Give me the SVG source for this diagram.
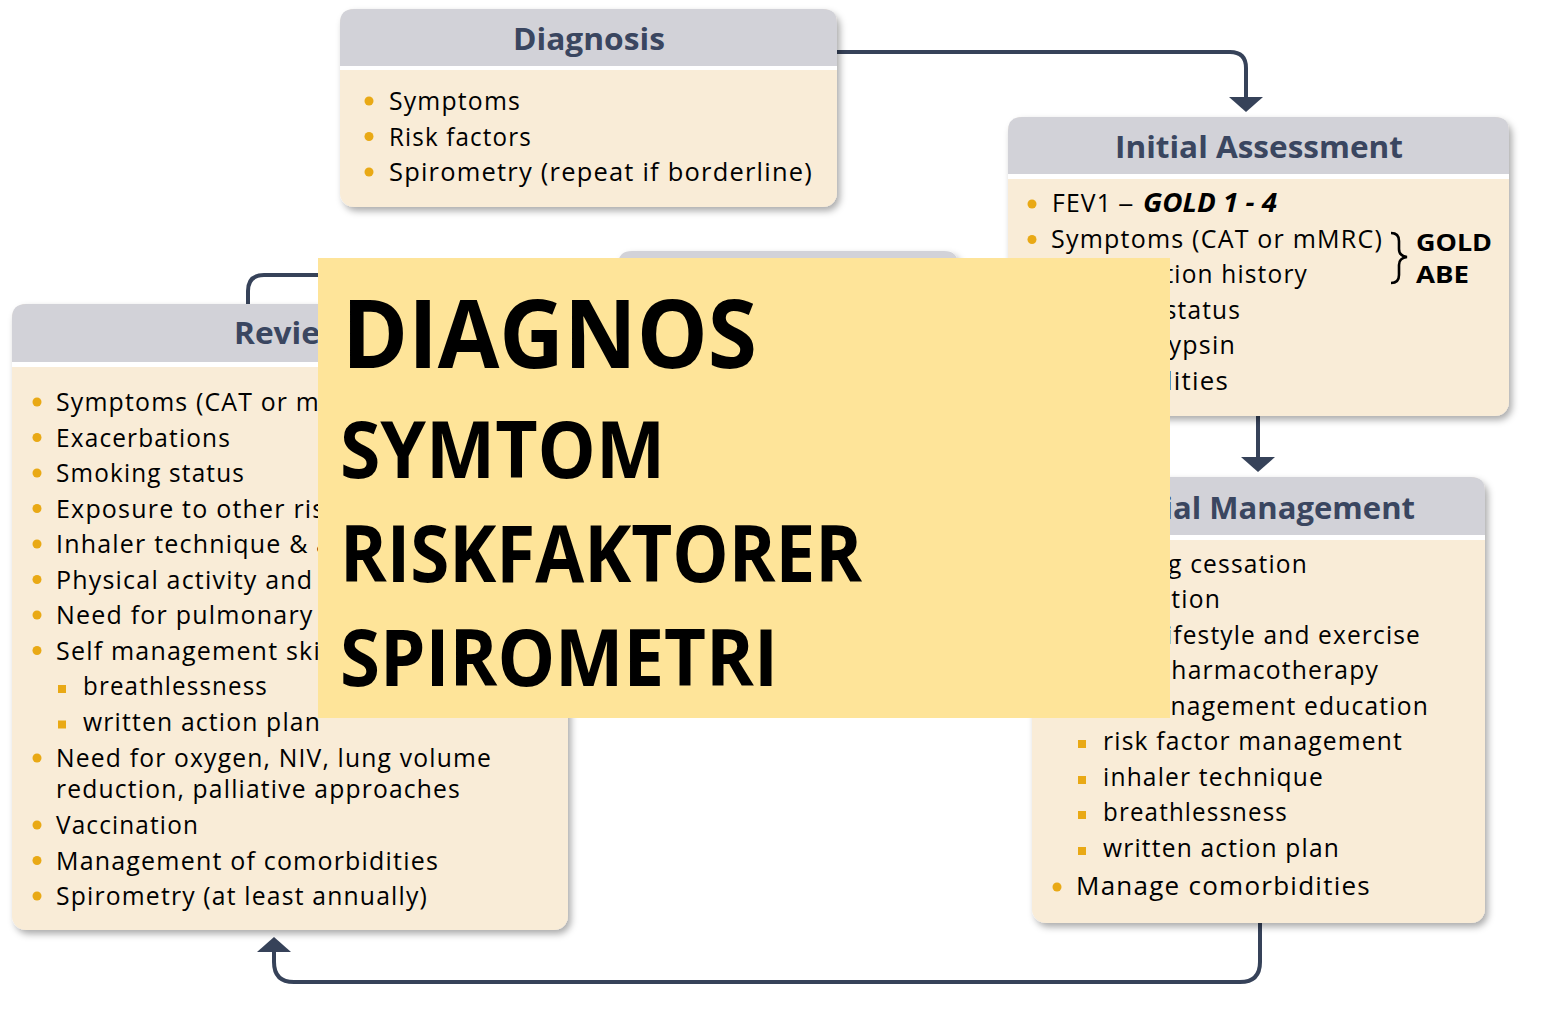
<svg xmlns="http://www.w3.org/2000/svg" width="1544" height="1016" viewBox="0 0 1544 1016">
<defs>
<filter id="sh" x="-5%" y="-5%" width="112%" height="115%">
<feDropShadow dx="3" dy="4" stdDeviation="3.5" flood-color="#000" flood-opacity="0.33"/>
</filter>
<marker id="ah" markerUnits="userSpaceOnUse" markerWidth="16" markerHeight="36" refX="0" refY="17" orient="auto" viewBox="0 0 16 34">
<path d="M0,0 L15,17 L0,34 Z" fill="#364259"/>
</marker>
<clipPath id="revclip">
<path d="M0,0 H318 V718 H1544 V1016 H0 Z"/>
</clipPath>
</defs>
<style>
.body{fill:#F9ECD7}
.head{fill:#D2D2D8}
.strip{fill:#FFFFFF}
.title{font-family:"Open Sans","Liberation Sans",sans-serif;font-weight:700;font-size:30px;fill:#3A4660}
.t{font-family:"Open Sans","Liberation Sans",sans-serif;font-size:25px;fill:#000;letter-spacing:1.2px}
.b{fill:#E9A915}
.con{fill:none;stroke:#364259;stroke-width:4}
.big{font-family:"Open Sans","Liberation Sans",sans-serif;font-weight:700;fill:#000}
.gb{font-family:"Open Sans","Liberation Sans",sans-serif;font-weight:700;font-size:26px;fill:#000}
.gs{font-family:"Open Sans","Liberation Sans",sans-serif;font-weight:700;font-size:23px;fill:#000}
</style>
<rect width="1544" height="1016" fill="#FFFFFF"/>

<g id="hidden-box" filter="url(#sh)">
<path class="head" d="M618,320 V265 Q618,251 632,251 H944 Q958,251 958,265 V320 Z"/>
</g>

<g id="connectors">
<path class="con" d="M837,52 H1230 Q1246,52 1246,68 V97" marker-end="url(#ah)"/>
<path class="con" d="M1258,416 V457" marker-end="url(#ah)"/>
<path class="con" d="M1260,923 V962 Q1260,982 1240,982 H294 Q274,982 274,962 V952" marker-end="url(#ah)"/>
<path class="con" d="M248,305 V291 Q248,275 264,275 H610"/>
</g>

<g id="diagnosis">
<rect class="body" x="340" y="9" width="497" height="198" rx="14" filter="url(#sh)"/>
<path class="head" d="M340,66 V23 Q340,9 354,9 H823 Q837,9 837,23 V66 Z"/>
<rect class="strip" x="340" y="66" width="497" height="4"/>
<text class="title" x="513" y="50" textLength="152" lengthAdjust="spacingAndGlyphs">Diagnosis</text>
<circle class="b" cx="369" cy="101" r="4.5"/>
<circle class="b" cx="369" cy="136.5" r="4.5"/>
<circle class="b" cx="369" cy="172" r="4.5"/>
<text class="t" x="389" y="110" textLength="132" lengthAdjust="spacingAndGlyphs">Symptoms</text>
<text class="t" x="389" y="145.5" textLength="143" lengthAdjust="spacingAndGlyphs">Risk factors</text>
<text class="t" x="389" y="181" textLength="424" lengthAdjust="spacingAndGlyphs">Spirometry (repeat if borderline)</text>
</g>

<g id="initial-assessment">
<rect class="body" x="1008" y="117" width="501" height="299" rx="14" filter="url(#sh)"/>
<path class="head" d="M1008,174 V131 Q1008,117 1022,117 H1495 Q1509,117 1509,131 V174 Z"/>
<rect class="strip" x="1008" y="174" width="501" height="5"/>
<text class="title" x="1115" y="158" textLength="288" lengthAdjust="spacingAndGlyphs">Initial Assessment</text>
<circle class="b" cx="1032" cy="204" r="4.5"/>
<circle class="b" cx="1032" cy="239.5" r="4.5"/>
<circle class="b" cx="1032" cy="275" r="4.5"/>
<circle class="b" cx="1032" cy="310.5" r="4.5"/>
<circle class="b" cx="1032" cy="346" r="4.5"/>
<circle class="b" cx="1032" cy="381.5" r="4.5"/>
<text class="t" x="1052" y="212" textLength="60" lengthAdjust="spacingAndGlyphs">FEV1</text>
<text class="t" x="1118" y="212" textLength="17" lengthAdjust="spacingAndGlyphs">–</text>
<text class="gb" x="1143" y="212" font-style="italic" textLength="134" lengthAdjust="spacingAndGlyphs">GOLD 1 - 4</text>
<text class="t" x="1051" y="247.5" textLength="332" lengthAdjust="spacingAndGlyphs">Symptoms (CAT or mMRC)</text>
<text class="t" x="1051" y="283" textLength="257" lengthAdjust="spacingAndGlyphs">Exacerbation history</text>
<text class="t" x="1051" y="318.5" textLength="190" lengthAdjust="spacingAndGlyphs">Smoking status</text>
<text class="t" x="1236" y="354" text-anchor="end">Alpha-1 antitrypsin</text>
<text class="t" x="1229" y="389.5" text-anchor="end" textLength="185" lengthAdjust="spacingAndGlyphs">Comorbidities</text>
<path d="M1391,233 Q1399,233 1399,241 V249 Q1399,256 1407,257 Q1399,258 1399,265 V275 Q1399,283 1391,283" fill="none" stroke="#000" stroke-width="2.6"/>
<text class="gs" x="1416" y="251" textLength="76" lengthAdjust="spacingAndGlyphs">GOLD</text>
<text class="gs" x="1416" y="283" textLength="53" lengthAdjust="spacingAndGlyphs">ABE</text>
</g>

<g id="initial-management">
<rect class="body" x="1032" y="477" width="453" height="446" rx="14" filter="url(#sh)"/>
<path class="head" d="M1032,535 V491 Q1032,477 1046,477 H1471 Q1485,477 1485,491 V535 Z"/>
<rect class="strip" x="1032" y="535" width="453" height="5"/>
<text class="title" x="1110" y="519" textLength="305" lengthAdjust="spacingAndGlyphs">Initial Management</text>
<circle class="b" cx="1057" cy="565" r="4.5"/>
<circle class="b" cx="1057" cy="600" r="4.5"/>
<circle class="b" cx="1057" cy="636" r="4.5"/>
<circle class="b" cx="1057" cy="671" r="4.5"/>
<circle class="b" cx="1057" cy="707" r="4.5"/>
<text class="t" x="1076" y="573" textLength="232" lengthAdjust="spacingAndGlyphs">Smoking cessation</text>
<text class="t" x="1076" y="608" textLength="145" lengthAdjust="spacingAndGlyphs">Vaccination</text>
<text class="t" x="1076" y="644" textLength="345" lengthAdjust="spacingAndGlyphs">Active lifestyle and exercise</text>
<text class="t" x="1076" y="679" textLength="303" lengthAdjust="spacingAndGlyphs">Initial pharmacotherapy</text>
<text class="t" x="1076" y="715" textLength="353" lengthAdjust="spacingAndGlyphs">Self-management education</text>
<rect class="b" x="1078" y="740" width="8" height="8"/>
<rect class="b" x="1078" y="776" width="8" height="8"/>
<rect class="b" x="1078" y="811" width="8" height="8"/>
<rect class="b" x="1078" y="847" width="8" height="8"/>
<text class="t" x="1103" y="750" textLength="300" lengthAdjust="spacingAndGlyphs">risk factor management</text>
<text class="t" x="1103" y="786" textLength="221" lengthAdjust="spacingAndGlyphs">inhaler technique</text>
<text class="t" x="1103" y="821" textLength="185" lengthAdjust="spacingAndGlyphs">breathlessness</text>
<text class="t" x="1103" y="857" textLength="237" lengthAdjust="spacingAndGlyphs">written action plan</text>
<circle class="b" cx="1057" cy="887" r="4.5"/>
<text class="t" x="1076" y="895" textLength="295" lengthAdjust="spacingAndGlyphs">Manage comorbidities</text>
</g>

<g id="review" clip-path="url(#revclip)">
<rect class="body" x="12" y="304" width="556" height="626" rx="14" filter="url(#sh)"/>
<path class="head" d="M12,362 V318 Q12,304 26,304 H554 Q568,304 568,318 V362 Z"/>
<rect class="strip" x="12" y="362" width="556" height="5"/>
<text class="title" x="234" y="344" textLength="86" lengthAdjust="spacingAndGlyphs">Revie</text>
<circle class="b" cx="37" cy="402" r="4.5"/>
<circle class="b" cx="37" cy="437.5" r="4.5"/>
<circle class="b" cx="37" cy="473" r="4.5"/>
<circle class="b" cx="37" cy="508.5" r="4.5"/>
<circle class="b" cx="37" cy="544" r="4.5"/>
<circle class="b" cx="37" cy="579.5" r="4.5"/>
<circle class="b" cx="37" cy="615" r="4.5"/>
<circle class="b" cx="37" cy="650.5" r="4.5"/>
<text class="t" x="56" y="411" textLength="264" lengthAdjust="spacingAndGlyphs">Symptoms (CAT or m</text>
<text class="t" x="56" y="446.5" textLength="175" lengthAdjust="spacingAndGlyphs">Exacerbations</text>
<text class="t" x="56" y="482" textLength="189" lengthAdjust="spacingAndGlyphs">Smoking status</text>
<text class="t" x="56" y="517.5">Exposure to other ris</text>
<text class="t" x="56" y="553">Inhaler technique &amp; a</text>
<text class="t" x="56" y="588.5">Physical activity and e</text>
<text class="t" x="56" y="624">Need for pulmonary</text>
<text class="t" x="56" y="659.5">Self management ski</text>
<rect class="b" x="58" y="685" width="8" height="8"/>
<rect class="b" x="58" y="720.5" width="8" height="8"/>
<text class="t" x="83" y="695" textLength="185" lengthAdjust="spacingAndGlyphs">breathlessness</text>
<text class="t" x="83" y="730.5" textLength="238" lengthAdjust="spacingAndGlyphs">written action plan</text>
<circle class="b" cx="37" cy="758" r="4.5"/>
<text class="t" x="56" y="767" textLength="436" lengthAdjust="spacingAndGlyphs">Need for oxygen, NIV, lung volume</text>
<text class="t" x="56" y="798" textLength="405" lengthAdjust="spacingAndGlyphs">reduction, palliative approaches</text>
<circle class="b" cx="37" cy="825" r="4.5"/>
<circle class="b" cx="37" cy="860.5" r="4.5"/>
<circle class="b" cx="37" cy="896" r="4.5"/>
<text class="t" x="56" y="834" textLength="143" lengthAdjust="spacingAndGlyphs">Vaccination</text>
<text class="t" x="56" y="869.5" textLength="383" lengthAdjust="spacingAndGlyphs">Management of comorbidities</text>
<text class="t" x="56" y="905" textLength="372" lengthAdjust="spacingAndGlyphs">Spirometry (at least annually)</text>
</g>

<g id="overlay">
<rect x="318" y="258" width="852" height="460" fill="#FEE499"/>
<text class="big" x="342" y="368" font-size="95" textLength="415" lengthAdjust="spacingAndGlyphs">DIAGNOS</text>
<text class="big" x="340" y="478" font-size="78" textLength="325" lengthAdjust="spacingAndGlyphs">SYMTOM</text>
<text class="big" x="340" y="582" font-size="78" textLength="522" lengthAdjust="spacingAndGlyphs">RISKFAKTORER</text>
<text class="big" x="340" y="686" font-size="78" textLength="438" lengthAdjust="spacingAndGlyphs">SPIROMETRI</text>
</g>
</svg>
